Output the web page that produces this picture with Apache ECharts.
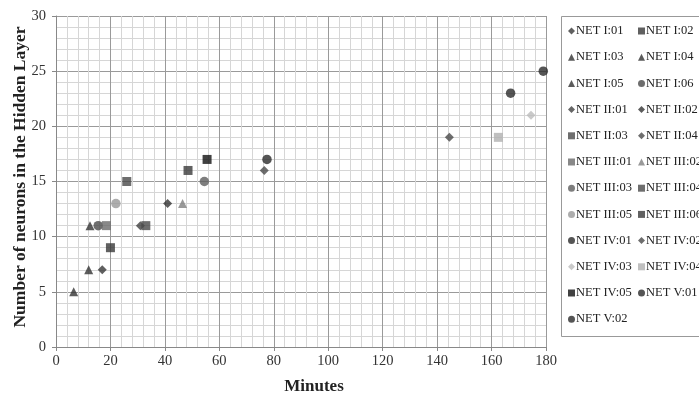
<!DOCTYPE html>
<html><head><meta charset="utf-8">
<script src="https://cdn.jsdelivr.net/npm/echarts@6/dist/echarts.min.js"></script>
<style>html,body{margin:0;padding:0;background:#fff}#c{width:699px;height:394px}</style>
</head><body><div id="c"></div>
<script>
const seriesNames = ["NET I:01","NET I:02","NET I:03","NET I:04","NET I:05","NET I:06",
  "NET II:01","NET II:02","NET II:03","NET II:04",
  "NET III:01","NET III:02","NET III:03","NET III:04","NET III:05","NET III:06",
  "NET IV:01","NET IV:02","NET IV:03","NET IV:04","NET IV:05",
  "NET V:01","NET V:02"];
const minutes = [17, 20, 6.5, 12, 12.5, 15.5,
  31, 41, 33, 76.5,
  18.5, 46.5, 54.5, 26, 22, 48.5,
  77.5, 144.5, 174.5, 162.5, 55.5,
  167, 179];
const neurons = [7, 9, 5, 7, 11, 11,
  11, 13, 11, 16,
  11, 13, 15, 15, 13, 16,
  17, 19, 21, 19, 17,
  23, 25];
const markerShapes = ["diamond","rect","triangle","triangle","triangle","circle",
  "diamond","diamond","rect","diamond",
  "rect","triangle","circle","rect","circle","rect",
  "circle","diamond","diamond","rect","rect",
  "circle","circle"];
const markerColors = ["#383838","#383838","#333","#333","#333","#4a4a4a",
  "#404040","#333","#4a4a4a","#4a4a4a",
  "#6a6a6a","#808080","#5e5e5e","#4a4a4a","#999","#3a3a3a",
  "#2a2a2a","#4a4a4a","#bbb","#b0b0b0","#111",
  "#2a2a2a","#2a2a2a"];
const xTicks = [0,20,40,60,80,100,120,140,160,180];
const yTicks = [0,5,10,15,20,25,30];

const series = seriesNames.map((n,i)=>({
  name:n, type:'scatter',
  symbol: markerShapes[i],
  symbolSize: markerShapes[i]==='diamond'?[9,9]:(markerShapes[i]==='circle'?9.5:9),
  itemStyle:{color:markerColors[i]},
  data:[[minutes[i], neurons[i]]]
}));
const leftNames = seriesNames.filter((_,i)=>i%2===0);
const rightNames = seriesNames.filter((_,i)=>i%2===1);
const legendCommon = {
  orient:'vertical', top:19, itemWidth:7, itemHeight:7, itemGap:12.2,
  textStyle:{fontFamily:'Liberation Serif', fontSize:12.5, color:'#222', lineHeight:14, padding:[0,0,0,-4]}
};
const chart = echarts.init(document.getElementById('c'));
chart.setOption({
  animation:false,
  grid:{left:56, right:153, top:16, bottom:47, outerBoundsMode:'none', containLabel:false},
  xAxis:{type:'value', min:0, max:180, interval:20,
    name:'Minutes', nameLocation:'middle', nameGap:31, nameMoveOverlap:false,
    nameTextStyle:{fontFamily:'Liberation Serif', fontWeight:'bold', fontSize:17, color:'#222', padding:[0,0,0,26]},
    axisLine:{show:true, onZero:false, lineStyle:{color:'#888'}},
    axisTick:{show:true, length:4, lineStyle:{color:'#888'}},
    axisLabel:{fontFamily:'Liberation Serif', fontSize:14.5, color:'#333', margin:7, formatter:v=>xTicks.includes(v)?String(v):''},
    splitLine:{show:true, lineStyle:{color:'#9a9a9a', width:1}},
    minorTick:{show:false, splitNumber:5},
    minorSplitLine:{show:true, lineStyle:{color:'#d6d6d6', width:1}}
  },
  yAxis:{type:'value', min:0, max:30, interval:5,
    name:'Number of neurons in the Hidden Layer', nameLocation:'middle', nameGap:27, nameMoveOverlap:false,
    nameTextStyle:{fontFamily:'Liberation Serif', fontWeight:'bold', fontSize:17.5, color:'#222', padding:[0,0,0,9]},
    axisLine:{show:true, lineStyle:{color:'#888'}},
    axisTick:{show:true, length:4, lineStyle:{color:'#888'}},
    axisLabel:{fontFamily:'Liberation Serif', fontSize:14.5, color:'#333', margin:10, formatter:v=>yTicks.includes(v)?String(v):''},
    splitLine:{show:true, lineStyle:{color:'#9a9a9a', width:1}},
    minorTick:{show:false, splitNumber:5},
    minorSplitLine:{show:true, lineStyle:{color:'#d6d6d6', width:1}}
  },
  legend:[
    Object.assign({}, legendCommon, {left:563, data:leftNames}),
    Object.assign({}, legendCommon, {left:633, data:rightNames})
  ],
  graphic:[{type:'rect', shape:{x:561.5, y:16.5, width:160, height:320},
    style:{fill:'none', stroke:'#999', lineWidth:1}, z:-1}],
  series: series
});
</script></body></html>
